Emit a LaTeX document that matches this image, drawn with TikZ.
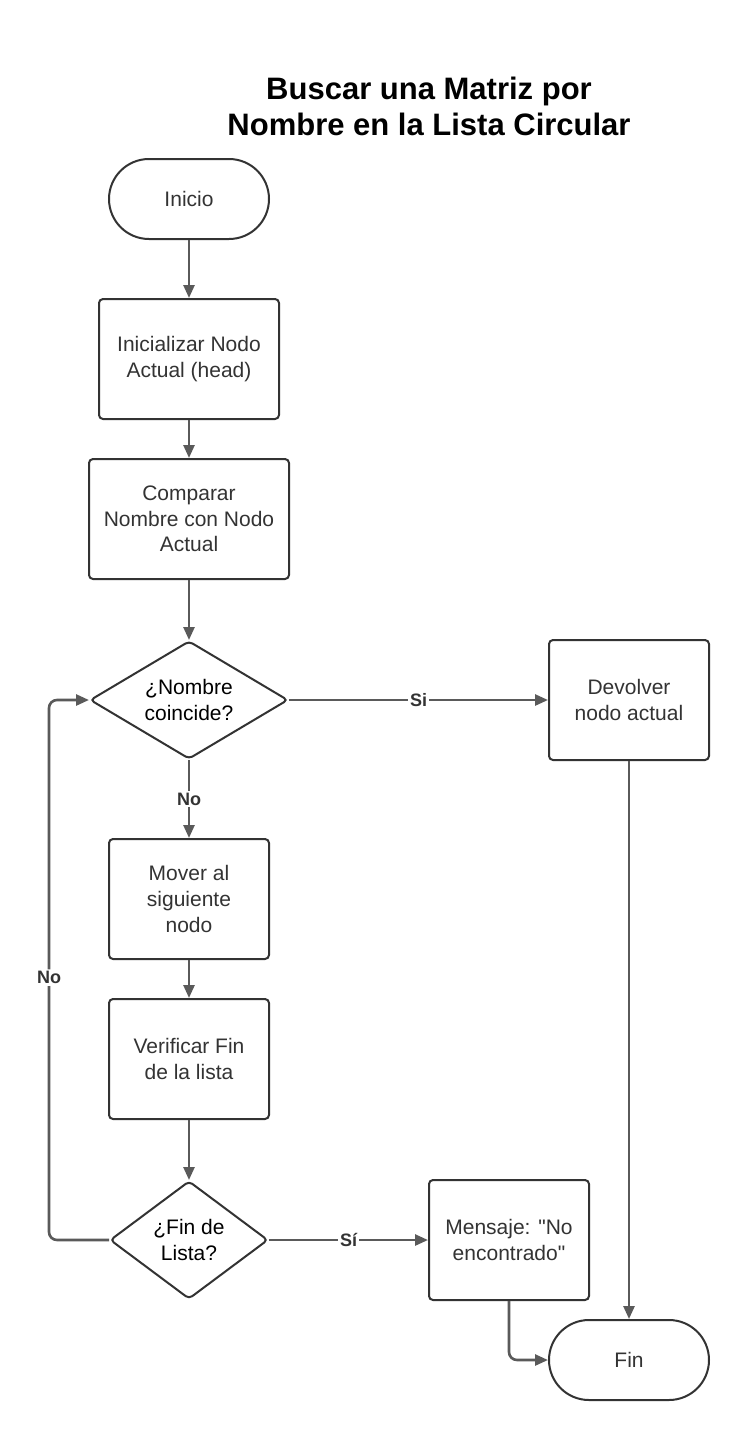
\documentclass[tikz,border=0pt]{standalone}
\usepackage{fontspec}
\setmainfont{Liberation Sans}[Ligatures=TeXOff]
\usetikzlibrary{shapes.geometric,arrows.meta,positioning}

\definecolor{lineagris}{HTML}{5A5A5A}
\definecolor{textogris}{HTML}{333333}

\begin{document}
\begin{tikzpicture}[x=0.5pt,y=-0.5pt,
    flecha/.style={draw=lineagris,line width=1.3pt,-{Triangle[length=6.5pt,width=5.5pt]}},
    caja/.style={draw=textogris,line width=1pt,rounded corners=2pt,align=center,
      text=textogris,minimum height=60pt,font=\fontsize{10.5}{12.8}\selectfont},
    inicio/.style={caja,rounded corners=20pt,minimum width=80pt,minimum height=40pt},
    decision/.style={diamond,draw=textogris,line width=1pt,rounded corners=2pt,align=center,
      inner sep=0pt,text=black,font=\fontsize{10.5}{12.8}\selectfont},
    etiqueta/.style={fill=white,inner sep=1pt,text=textogris,font=\bfseries\fontsize{9}{10}\selectfont},
    titulo/.style={align=center,font=\bfseries\fontsize{15.5}{18}\selectfont}]
                \fill[white] (0,0) rectangle (749,1440);
                \useasboundingbox (0,0) rectangle (749,1440);

                \node[titulo] (titulo) at (429,106) {Buscar una Matriz por\\Nombre en la Lista Circular};

                \node[inicio] (inicio) at (189,199) {Inicio};
                \node[caja,minimum width=90pt] (init) at (189,359) {Inicializar Nodo\\Actual (head)};
                \node[caja,minimum width=100pt] (comparar) at (189,519) {Comparar\\Nombre con Nodo\\Actual};
                \node[decision,shape aspect=1.68,minimum width=99pt,minimum height=59pt] (coincide) at (189,700) {¿Nombre\\coincide?};
                \node[caja,minimum width=80pt] (devolver) at (629,700) {Devolver\\nodo actual};
                \node[caja,minimum width=80pt] (mover) at (189,899) {Mover al\\siguiente\\nodo};
                \node[caja,minimum width=80pt] (verificar) at (189,1059) {Verificar Fin\\de la lista};
                \node[decision,shape aspect=1.34,minimum width=79pt,minimum height=59pt] (finlista) at (189,1240) {¿Fin de\\Lista?};
                \node[caja,minimum width=80pt] (mensaje) at (509,1240) {Mensaje: "No\\encontrado"};
                \node[inicio] (fin) at (629,1360) {Fin};

                \draw[flecha] (inicio) -- (init);
                \draw[flecha] (init) -- (comparar);
                \draw[flecha] (comparar) -- (coincide);
                \draw[flecha] (coincide) -- node[etiqueta] {Si} (devolver);
                \draw[flecha] (coincide) -- node[etiqueta] {No} (mover);
                \draw[flecha] (mover) -- (verificar);
                \draw[flecha] (verificar) -- (finlista);
                \draw[flecha] (finlista) -- node[etiqueta] {Sí} (mensaje);
                \draw[flecha,rounded corners=4pt] (finlista.west) -- ++(-60,0) |- node[etiqueta,pos=0.243] {No} (coincide.west);
                \draw[flecha] (devolver) -- (fin);
                \draw[flecha,rounded corners=4pt] (mensaje.south) |- (fin.west);
            \end{tikzpicture}
\end{document}
